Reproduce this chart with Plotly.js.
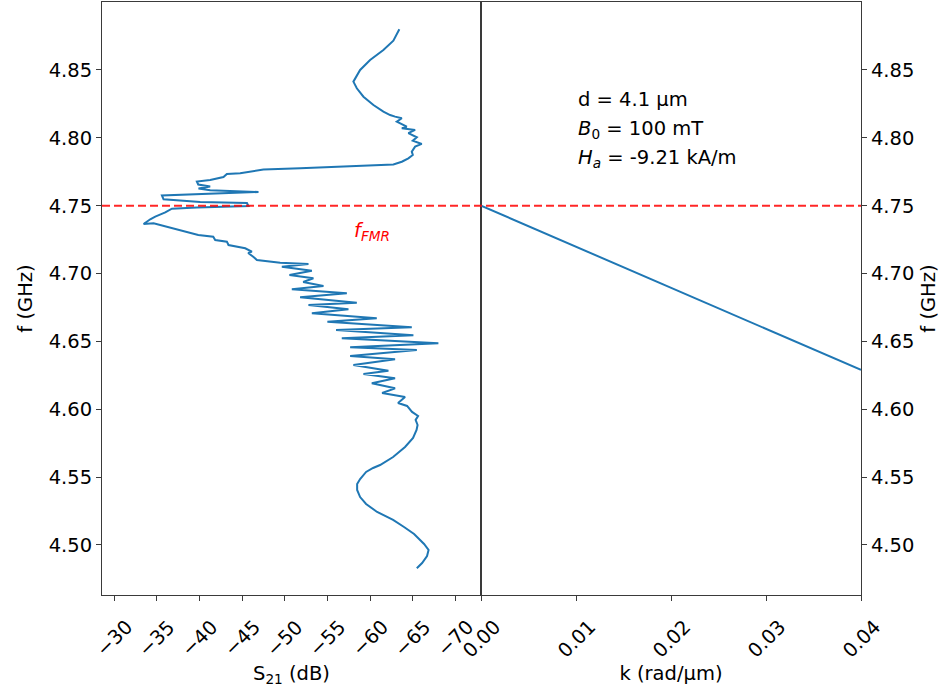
<!DOCTYPE html>
<html>
<head>
<meta charset="utf-8">
<script src="https://cdn.plot.ly/plotly-3.0.1.min.js"></script>
<style>
  html, body { margin: 0; padding: 0; background: #fff; }
  #chart { width: 947px; height: 693px; }
</style>
</head>
<body>
<div id="chart"></div>
<script>
// Measured transmission S21 across the frequency sweep (left panel)
const freqGHz = [
  4.4828, 4.4867, 4.4918, 4.4963, 4.5007, 4.5081, 4.5132, 4.5184, 4.5243, 4.5302,
  4.5353, 4.5405, 4.5449, 4.5486, 4.5538, 4.5567, 4.5589, 4.5648, 4.5722, 4.5788,
  4.5847, 4.5884, 4.5921, 4.5950, 4.5980, 4.6024, 4.6046, 4.6090, 4.6120, 4.6154,
  4.6191, 4.6228, 4.6260, 4.6284, 4.6326, 4.6368, 4.6392, 4.6437, 4.6457, 4.6486,
  4.6523, 4.6545, 4.6584, 4.6604, 4.6645, 4.6670, 4.6707, 4.6737, 4.6768, 4.6785,
  4.6825, 4.6854, 4.6884, 4.6908, 4.6938, 4.6965, 4.6989, 4.7021, 4.7050, 4.7070,
  4.7080, 4.7100, 4.7124, 4.7151, 4.7161, 4.7186, 4.7210, 4.7235, 4.7247, 4.7271,
  4.7284, 4.7310, 4.7333, 4.7358, 4.7370, 4.7365, 4.7400, 4.7419, 4.7450, 4.7478,
  4.7487, 4.7498, 4.7520, 4.7527, 4.7547, 4.7575, 4.7601, 4.7613, 4.7627, 4.7641,
  4.7656, 4.7678, 4.7689, 4.7711, 4.7734, 4.7739, 4.7767, 4.7776, 4.7804, 4.7824,
  4.7849, 4.7874, 4.7898, 4.7935, 4.7955, 4.7979, 4.8004, 4.8034, 4.8058, 4.8070,
  4.8082, 4.8119, 4.8144, 4.8156, 4.8168, 4.8193, 4.8242, 4.8303, 4.8365, 4.8414,
  4.8500, 4.8574, 4.8647, 4.8716, 4.8758, 4.8800
];
const s21dB = [
  -65.49, -66.11, -66.69, -66.87, -66.34, -65.17, -63.99, -62.71, -60.83, -59.54,
  -58.84, -58.49, -58.49, -58.84, -59.54, -60.36, -61.18, -62.71, -64.11, -65.05,
  -65.46, -65.58, -65.35, -65.64, -64.93, -64.35, -63.29, -64.11, -61.42, -62.94,
  -60.21, -62.94, -59.23, -62.16, -58.05, -62.94, -57.67, -65.49, -57.67, -68.02,
  -56.69, -65.09, -56.02, -64.90, -55.00, -60.79, -53.18, -57.47, -52.78, -58.45,
  -51.80, -57.28, -50.83, -54.54, -52.16, -53.36, -50.55, -53.18, -49.66, -52.78,
  -49.46, -46.73, -46.30, -45.71, -46.14, -45.36, -43.40, -43.21, -41.84, -41.61,
  -39.85, -38.32, -36.95, -35.39, -34.61, -33.44, -34.22, -34.81, -35.98, -36.76,
  -39.69, -45.74, -45.56, -40.08, -35.78, -35.59, -46.92, -41.25, -39.88, -41.25,
  -39.85, -39.69, -41.25, -42.81, -43.21, -44.77, -47.50, -51.81, -62.74, -63.73,
  -64.50, -65.02, -64.90, -65.29, -66.07, -65.02, -65.49, -64.50, -65.29, -63.73,
  -64.31, -63.14, -63.73, -62.94, -62.36, -61.57, -60.40, -59.23, -58.45, -58.05,
  -58.84, -60.01, -61.57, -62.74, -63.14, -63.44
];

// Spin-wave dispersion branch (right panel)
const kRadPerUm = [0.0, 0.04];
const kFreqGHz = [4.75, 4.629];

// Ferromagnetic resonance frequency
const fFMR = 4.75;

// Axis ticks
const s21Ticks = [-30, -35, -40, -45, -50, -55, -60, -65, -70];
const kTicks = [0.00, 0.01, 0.02, 0.03, 0.04];
const fTicks = [4.50, 4.55, 4.60, 4.65, 4.70, 4.75, 4.80, 4.85];

// Sample parameters
const paramLines = [
  'd = 4.1 µm',
  '<i>B</i><sub>0</sub> = 100 mT',
  '<i>H</i><sub><i>a</i></sub> = -9.21 kA/m'
];

const FONT = 'DejaVu Sans, sans-serif';
const FS = 19.5;
const INK = '#000000';
const AXIS = '#3a3a3a';
const BLUE = '#1f77b4';
const F_RANGE = [4.4631, 4.9001];

const axisBase = {
  showline: true, mirror: true, linecolor: AXIS, linewidth: 1,
  ticks: 'outside', ticklen: 5, tickwidth: 1, tickcolor: AXIS,
  showgrid: false, zeroline: false,
  tickfont: { family: FONT, size: FS, color: INK }
};

const traces = [
  { x: s21dB, y: freqGHz, xaxis: 'x', yaxis: 'y', type: 'scatter', mode: 'lines',
    line: { color: BLUE, width: 2 }, hoverinfo: 'skip' },
  { x: kRadPerUm, y: kFreqGHz, xaxis: 'x2', yaxis: 'y2', type: 'scatter', mode: 'lines',
    line: { color: BLUE, width: 2 }, hoverinfo: 'skip' }
];

const annotations = [];
const tickFont = { family: FONT, size: FS, color: INK };

// Rotated tick labels, centred under each tick
s21Ticks.forEach(v => annotations.push({
  x: v, xref: 'x', y: 0, yref: 'paper', xanchor: 'center', yanchor: 'top',
  yshift: -18, textangle: -45, showarrow: false,
  text: (v < 0 ? '\u2212' : '') + Math.abs(v), font: tickFont
}));
kTicks.forEach(v => annotations.push({
  x: v, xref: 'x2', y: 0, yref: 'paper', xanchor: 'center', yanchor: 'top',
  yshift: -18, textangle: -45, showarrow: false,
  text: v.toFixed(2), font: tickFont
}));

// f_FMR label
annotations.push({
  x: -60.2, xref: 'x', y: 4.731, yref: 'y', showarrow: false,
  xanchor: 'center', yanchor: 'middle',
  text: '<i>f</i><sub><i>FMR</i></sub>', font: { family: FONT, size: FS, color: '#ff0000' }
});

// Parameter block
const paramY = [4.8279, 4.8065, 4.7851];
paramLines.forEach((t, i) => annotations.push({
  x: 0.01, xref: 'x2', y: paramY[i], yref: 'y2', showarrow: false,
  xanchor: 'left', yanchor: 'middle', text: t, font: { family: FONT, size: FS, color: INK }
}));

const layout = {
  width: 947, height: 693,
  margin: { l: 102, r: 86, t: 2, b: 98 },
  paper_bgcolor: '#ffffff', plot_bgcolor: '#ffffff',
  showlegend: false,
  font: { family: FONT, size: FS, color: INK },
  xaxis: Object.assign({}, axisBase, {
    domain: [0, 379 / 759], anchor: 'y',
    range: [-28.56, -73.02], tickmode: 'array', tickvals: s21Ticks, showticklabels: false,
    title: { text: 'S<sub>21</sub> (dB)', standoff: 66, font: { family: FONT, size: FS, color: INK } }
  }),
  xaxis2: Object.assign({}, axisBase, {
    domain: [379 / 759, 1], anchor: 'y2',
    range: [0, 0.04], tickmode: 'array', tickvals: kTicks, showticklabels: false,
    title: { text: 'k (rad/µm)', standoff: 66, font: { family: FONT, size: FS, color: INK } }
  }),
  yaxis: Object.assign({}, axisBase, {
    anchor: 'x', range: F_RANGE, tickmode: 'array', tickvals: fTicks, tickformat: '.2f',
    title: { text: 'f (GHz)', standoff: 10, font: { family: FONT, size: FS, color: INK } }
  }),
  yaxis2: Object.assign({}, axisBase, {
    anchor: 'x2', side: 'right', range: F_RANGE, tickmode: 'array', tickvals: fTicks, tickformat: '.2f',
    title: { text: 'f (GHz)', standoff: 8, font: { family: FONT, size: FS, color: INK } }
  }),
  shapes: [{
    type: 'line', xref: 'paper', x0: 0, x1: 1, yref: 'y', y0: fFMR, y1: fFMR,
    line: { color: 'rgba(255,0,0,0.85)', width: 2, dash: '8px,4px' }, layer: 'above'
  }],
  annotations: annotations
};

Plotly.newPlot('chart', traces, layout, { displayModeBar: false, staticPlot: true });
</script>
</body>
</html>
